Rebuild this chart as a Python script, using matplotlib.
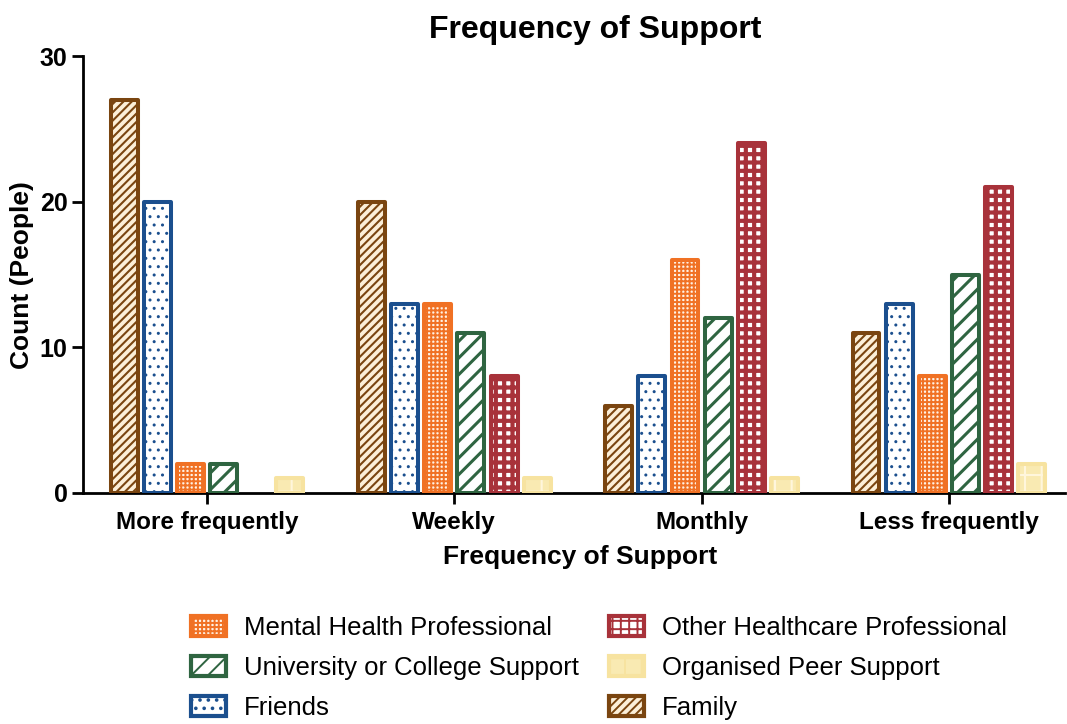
import matplotlib
matplotlib.use("Agg")
import matplotlib.pyplot as plt
from matplotlib.patches import Patch
import numpy as np

plt.rcParams['font.family'] = ['Liberation Sans', 'DejaVu Sans']
plt.rcParams['hatch.linewidth'] = 1.4

categories = ["More frequently", "Weekly", "Monthly", "Less frequently"]
series_names = ["Family", "Friends", "Mental Health Professional",
                "University or College Support", "Other Healthcare Professional",
                "Organised Peer Support"]
family = [27, 20, 6, 11]
friends = [20, 13, 8, 13]
mental_health = [2, 13, 16, 8]
university = [2, 11, 12, 15]
other_healthcare = [0, 8, 24, 21]
peer_support = [1, 1, 1, 2]
values = [family, friends, mental_health, university, other_healthcare, peer_support]
yticks = [0, 10, 20, 30]

# style: (edge color, face color, hatch, hatch color, hatch linewidth)
styles = [
    ("#7A4510", "#FCEFD8", "////", "#7A4510", 1.5),
    ("#1B4F8E", "#FFFFFF", "..", "#1B4F8E", 1.0),
    ("#F07124", "#FFF3E6", "++++", "#F07124", 1.4),
    ("#2F6541", "#FFFFFF", "//", "#2F6541", 2.2),
    ("#A8323A", "#FFFFFF", "++", "#A8323A", 3.0),
    ("#F7E3A0", "#F9EAB2", "+", "#FFF6DC", 1.5),
]

fig = plt.figure(figsize=(10.67, 7.24), dpi=100)
ax = fig.add_axes([83/1067, 1-493/724, (1065-83)/1067, (493-56)/724])

x = np.arange(len(categories))
pitch = 0.134
width = 0.109
for i, (vals, st) in enumerate(zip(values, styles)):
    ec, fc, h, hc, hlw = st
    pos = x + (i - 2.5) * pitch
    lws = [2.9 if v > 0 else 0 for v in vals]
    with plt.rc_context({'hatch.linewidth': hlw}):
        ax.bar(pos, vals, width, color=fc, edgecolor=hc, hatch=h, linewidth=0, zorder=2)
    ax.bar(pos, vals, width, fill=False, edgecolor=ec, linewidth=lws,
           joinstyle='round', zorder=3)

ax.set_xlim(-0.502, 3.47)
ax.set_ylim(0, 30)
ax.set_yticks(yticks)
ax.set_yticklabels([str(t) for t in yticks], fontsize=18, fontweight='bold')
ax.set_xticks(x)
ax.set_xticklabels(categories, fontsize=17.5, fontweight='bold')
for s in ['top', 'right']:
    ax.spines[s].set_visible(False)
for s in ['left', 'bottom']:
    ax.spines[s].set_linewidth(2.0)
ax.tick_params(axis='both', direction='out', length=8, width=2.0)
ax.tick_params(axis='y', pad=3)
ax.tick_params(axis='x', pad=5)

fig.text(595/1067, 1-30/724, "Frequency of Support", ha='center', va='center',
         fontsize=23, fontweight='bold')
fig.text(580/1067, 1-557/724, "Frequency of Support", ha='center', va='center',
         fontsize=19, fontweight='bold')
fig.text(22/1067, 1-275/724, "Count (People)", ha='center', va='center',
         rotation=90, fontsize=19, fontweight='bold')

order = [2, 3, 1, 4, 5, 0]
handles = []
for k in order:
    ec, fc, h, hc, hlw = styles[k]
    with plt.rc_context({'hatch.linewidth': min(hlw, 1.5)}):
        handles.append(Patch(facecolor=fc, edgecolor=ec, hatch=h, linewidth=3.0,
                             label=series_names[k]))
fig.legend(handles=handles, loc='center', bbox_to_anchor=(599/1067, 1-668/724),
           ncol=2, frameon=False, fontsize=18.5, handlelength=1.35, handleheight=0.85,
           columnspacing=1.2, labelspacing=0.62, handletextpad=0.7, borderpad=0.2)

fig.savefig("out.png", dpi=100)
